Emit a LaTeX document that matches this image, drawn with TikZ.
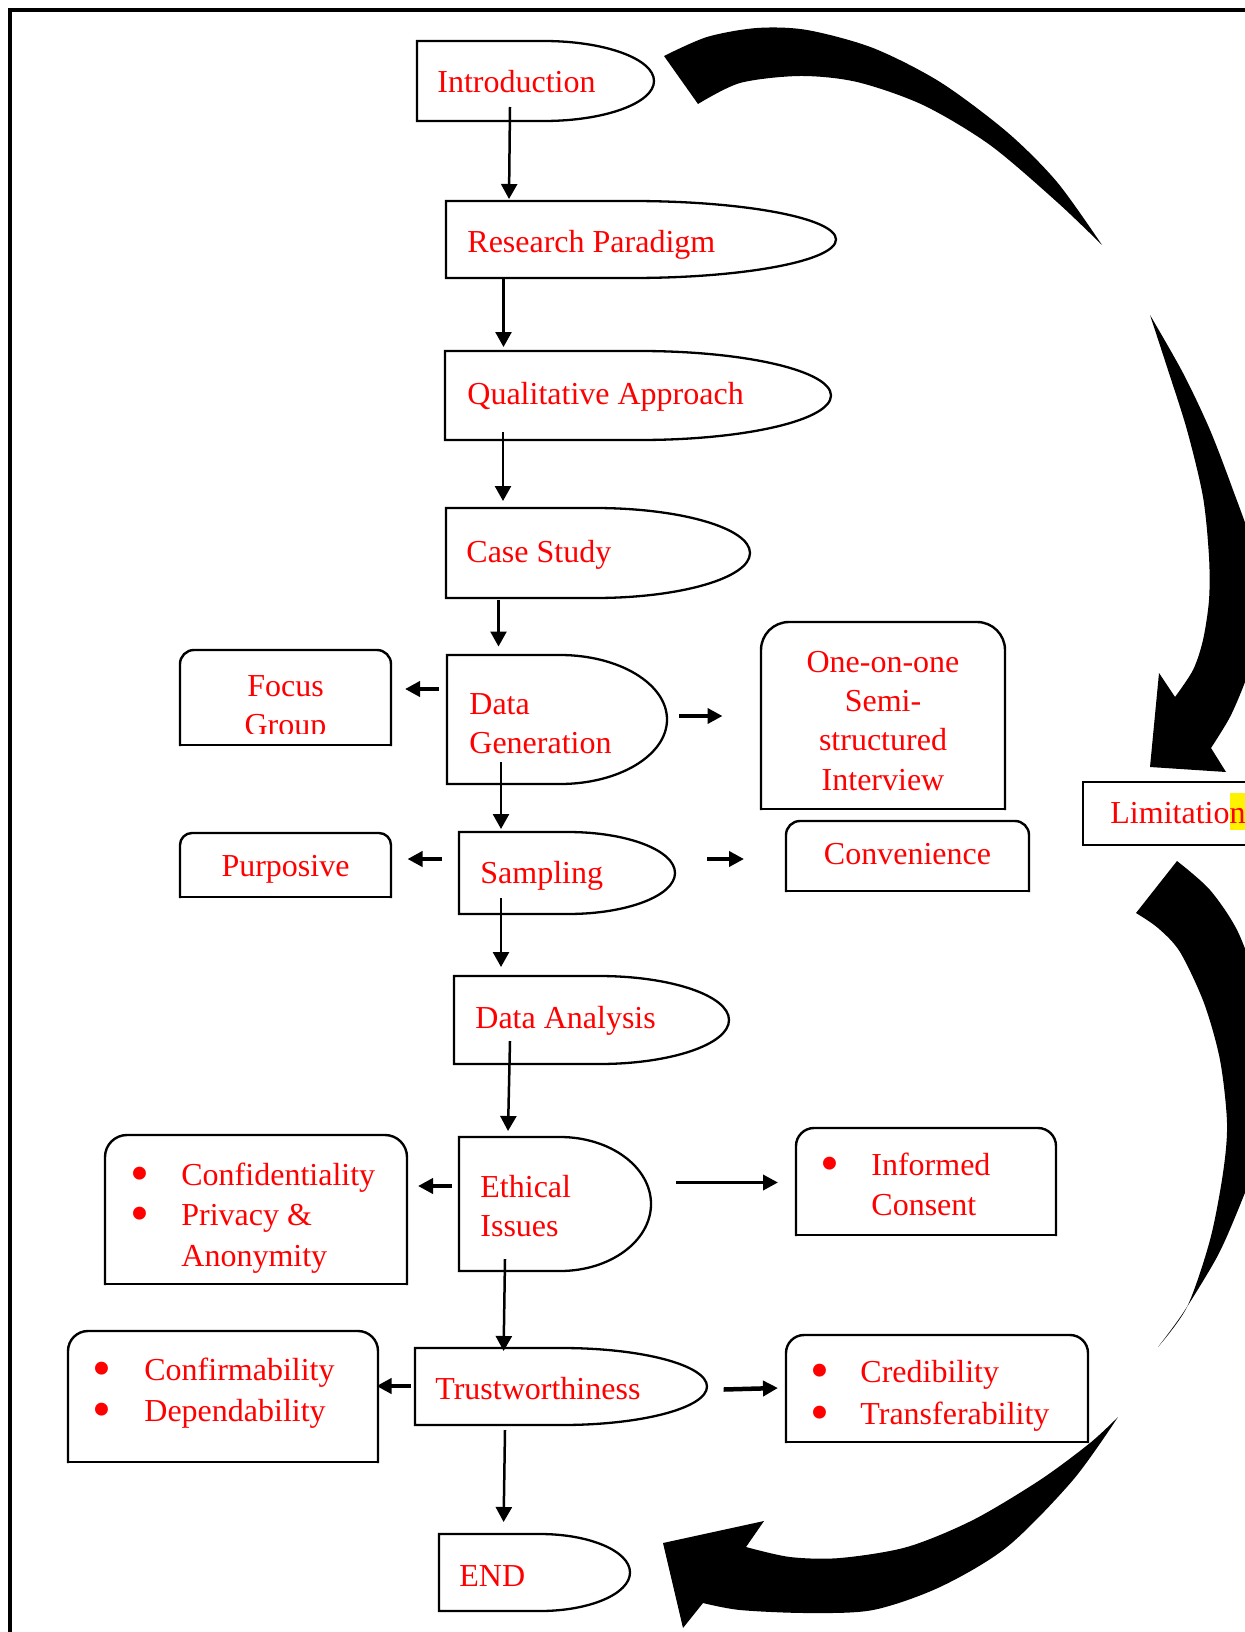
\documentclass[tikz,border=0pt]{standalone}
\usepackage{fontspec}
\setmainfont{Liberation Serif}
\usetikzlibrary{arrows.meta}
% D-shaped box: #1 left, #2 top, #3 bottom, #4 start of curve, #5 right extreme
\newcommand\dshp[5]{%
  \draw[shapeline] (#1,#2) -- (#4,#2)
    .. controls ({#4+0.5523*(#5-#4)},#2) and (#5,{#2+0.4477*(#3-#2)/2}) .. (#5,{(#2+#3)/2})
    .. controls (#5,{#3-0.4477*(#3-#2)/2}) and ({#4+0.5523*(#5-#4)},#3) .. (#4,#3)
    -- (#1,#3) -- cycle;}
% box with rounded top corners: #1 left, #2 top, #3 right, #4 bottom, #5 radius
\newcommand\rbox[5]{%
  \draw[boxline,rounded corners=#5] (#1,#4) -- (#1,#2) -- (#3,#2) -- (#3,#4);
  \draw[boxline] (#1,#4) -- (#3,#4);}
\begin{document}
\begin{tikzpicture}[x=0.5pt,y=-0.5pt,
  shapeline/.style={draw=black,line width=1.15pt,line join=miter},
  boxline/.style={draw=black,line width=1.2pt,line cap=rect},
  vflow/.style={draw=black,line width=1.25pt,-{Triangle[length=7.5pt,width=8pt]}},
  sideflow/.style={draw=black,line width=2.25pt,-{Triangle[length=7.5pt,width=7.5pt]}},
  txt/.style={anchor=base west,inner sep=0pt,text=red,font=\fontsize{16}{19.8}\selectfont},
  ctxt/.style={txt,anchor=base},
  bul/.style={anchor=base,inner sep=0pt,text=red,font=\fontsize{27}{27}\selectfont},
  bigarrow/.style={fill=black}]
\useasboundingbox (0,0) rectangle (1245,1632);
\clip (0,0) rectangle (1245,1632);
% frame
\draw[line width=2pt] (10,10) rectangle (1400,1800);

% big curved arrows
\fill[bigarrow] plot[smooth] coordinates {(664,56) (707,37) (757,28) (807,30) (873,48) (940,82) (1007,132) (1057,182) (1102,245)}
  -- plot[smooth] coordinates {(1102,245) (1057,202) (990,145) (923,105) (857,82) (800,76) (740,83) (698,104)} -- cycle;
\fill[bigarrow] plot[smooth] coordinates {(1150,315) (1183,373) (1210,430) (1233,490) (1252,545) (1260,600) (1255,650) (1245,682) (1230,717) (1211,748)}
  -- (1226,772) -- (1150,767) -- (1159,673) -- (1175,697)
  -- plot[smooth] coordinates {(1175,697) (1193,670) (1203,640) (1209,600) (1209,557) (1203,497) (1187,430) (1167,367) (1150,315)} -- cycle;
\fill[bigarrow] plot[smooth] coordinates {(1177,861) (1210,890) (1238,932) (1258,990) (1268,1060) (1266,1120) (1255,1165) (1238,1210) (1217,1257) (1183,1313) (1158,1347)}
  -- plot[smooth] coordinates {(1158,1347) (1187,1307) (1210,1240) (1223,1173) (1227,1123) (1220,1060) (1204,1003) (1180,952) (1158,928) (1136,913)} -- cycle;
\fill[bigarrow] plot[smooth] coordinates {(1118,1417) (1073,1480) (1007,1547) (940,1587) (873,1610) (807,1613) (740,1610) (703,1603)}
  -- (683,1628) -- (663,1543) -- (764,1521) -- (746,1547)
  -- plot[smooth] coordinates {(746,1547) (790,1557) (840,1558) (907,1547) (973,1520) (1040,1480) (1090,1443) (1118,1417)} -- cycle;

% main flow shapes
\dshp{417}{41}{121}{544}{654}
\dshp{446}{201}{278}{632}{836}
\dshp{445}{351}{440}{640}{831}
\dshp{446}{508}{598}{595}{750}
\dshp{447}{655}{784}{560}{667}
\dshp{459}{832}{914}{568}{675}
\dshp{454}{976}{1064}{599}{729}
\dshp{459}{1137}{1271}{560}{651}
\dshp{415}{1348}{1425}{562}{707}
\dshp{439}{1534}{1611}{540}{630}

% side boxes
\rbox{180}{650}{391}{745}{7pt}
\rbox{180}{833}{391}{897}{6pt}
\rbox{761}{622}{1005}{809}{14pt}
\rbox{786}{821}{1029}{891}{7pt}
\rbox{105}{1135}{407}{1284}{11pt}
\rbox{796}{1128}{1056}{1235}{9pt}
\rbox{68}{1331}{378}{1462}{10pt}
\rbox{786}{1335}{1088}{1442}{9pt}
\draw[boxline] (1300,782) -- (1083,782) -- (1083,845) -- (1300,845);

% texts of the flow
\node[txt] (intro) at (437,93) {Introduction};
\node[txt] (rp) at (467,252) {Research Paradigm};
\node[txt] (qa) at (467,404) {Qualitative Approach};
\node[txt] (cs) at (466,562) {Case Study};
\node[txt] (dg1) at (469,714) {Data};
\node[txt] (dg2) at (469,753) {Generation};
\node[txt] (samp) at (480,883) {Sampling};
\node[txt] (da) at (475,1028) {Data Analysis};
\node[txt] (ei1) at (480,1197) {Ethical};
\node[txt] (ei2) at (480,1236) {Issues};
\node[txt] (tw) at (435,1399) {Trustworthiness};
\node[txt] (end) at (459,1586) {END};

% texts of the side boxes
\node[ctxt] (fg1) at (285.5,696) {Focus};
\begin{scope}
\clip (170,640) rectangle (400,733);
\node[ctxt] (fg2) at (285.5,735) {Group};
\end{scope}
\node[ctxt] (pur) at (285.5,876) {Purposive};
\node[ctxt] (oo1) at (883,672) {One-on-one};
\node[ctxt] (oo2) at (883,711) {Semi-};
\node[ctxt] (oo3) at (883,750.5) {structured};
\node[ctxt] (oo4) at (883,790) {Interview};
\node[ctxt] (conv) at (907.5,864) {Convenience};
\node[txt] (lim) at (1110,823) {Limitatio{\setlength{\fboxsep}{0pt}\colorbox{yellow}{\rule[-3.5pt]{0pt}{18.5pt}n}}};

\node[bul] (b1) at (140,1191) {\smash{•}};
\node[bul] (b2) at (140,1231.5) {\smash{•}};
\node[txt] (conf) at (181,1185) {Confidentiality};
\node[txt] (priv) at (181,1225.5) {Privacy \&};
\node[txt] (anon) at (181,1266) {Anonymity};
\node[bul] (b3) at (830,1181) {\smash{•}};
\node[txt] (inf1) at (871,1175) {Informed};
\node[txt] (inf2) at (871,1215.5) {Consent};
\node[bul] (b4) at (102,1386) {\smash{•}};
\node[bul] (b5) at (102,1427.5) {\smash{•}};
\node[txt] (cfm) at (144,1380) {Confirmability};
\node[txt] (dep) at (144,1421.5) {Dependability};
\node[bul] (b6) at (820,1388.5) {\smash{•}};
\node[bul] (b7) at (820,1430) {\smash{•}};
\node[txt] (cred) at (860,1382.5) {Credibility};
\node[txt] (trans) at (860,1424) {Transferability};

% connector end points
\coordinate (v1a) at (510,107);   \coordinate (v1b) at (509,199);
\coordinate (v2a) at (503.5,278); \coordinate (v2b) at (503.5,347);
\coordinate (v3a) at (503,432);   \coordinate (v3b) at (503,501);
\coordinate (v4a) at (498.5,600); \coordinate (v4b) at (498.5,646.5);
\coordinate (v5a) at (501,762);   \coordinate (v5b) at (501,829);
\coordinate (v6a) at (501,898);   \coordinate (v6b) at (501,967);
\coordinate (v7a) at (510,1041);  \coordinate (v7b) at (508,1131);
\coordinate (v8a) at (505,1259);  \coordinate (v8b) at (503.6,1351);
\coordinate (v9a) at (505,1430);  \coordinate (v9b) at (503.6,1522);
\coordinate (s1a) at (439,689);   \coordinate (s1b) at (405,689);
\coordinate (s2a) at (679,716);   \coordinate (s2b) at (722.5,716);
\coordinate (s3a) at (442,859);   \coordinate (s3b) at (407.5,859);
\coordinate (s4a) at (707,859);   \coordinate (s4b) at (744,859);
\coordinate (s5a) at (452,1186);  \coordinate (s5b) at (418,1186);
\coordinate (s6a) at (676,1182.5);\coordinate (s6b) at (778,1182.5);
\coordinate (s7a) at (411,1386);  \coordinate (s7b) at (376.5,1386);
\coordinate (s8a) at (723.6,1389.5); \coordinate (s8b) at (778,1388);

\draw[vflow] (v1a) -- (v1b);
\draw[vflow] (v2a) -- (v2b);
\draw[vflow] (v3a) -- (v3b);
\draw[vflow] (v4a) -- (v4b);
\draw[vflow] (v5a) -- (v5b);
\draw[vflow] (v6a) -- (v6b);
\draw[vflow] (v7a) -- (v7b);
\draw[vflow] (v8a) -- (v8b);
\draw[vflow] (v9a) -- (v9b);
\draw[sideflow] (s1a) -- (s1b);
\draw[sideflow] (s2a) -- (s2b);
\draw[sideflow] (s3a) -- (s3b);
\draw[sideflow] (s4a) -- (s4b);
\draw[sideflow] (s5a) -- (s5b);
\draw[sideflow,line width=1.8pt] (s6a) -- (s6b);
\draw[sideflow] (s7a) -- (s7b);
\draw[sideflow] (s8a) -- (s8b);
\end{tikzpicture}
\end{document}
